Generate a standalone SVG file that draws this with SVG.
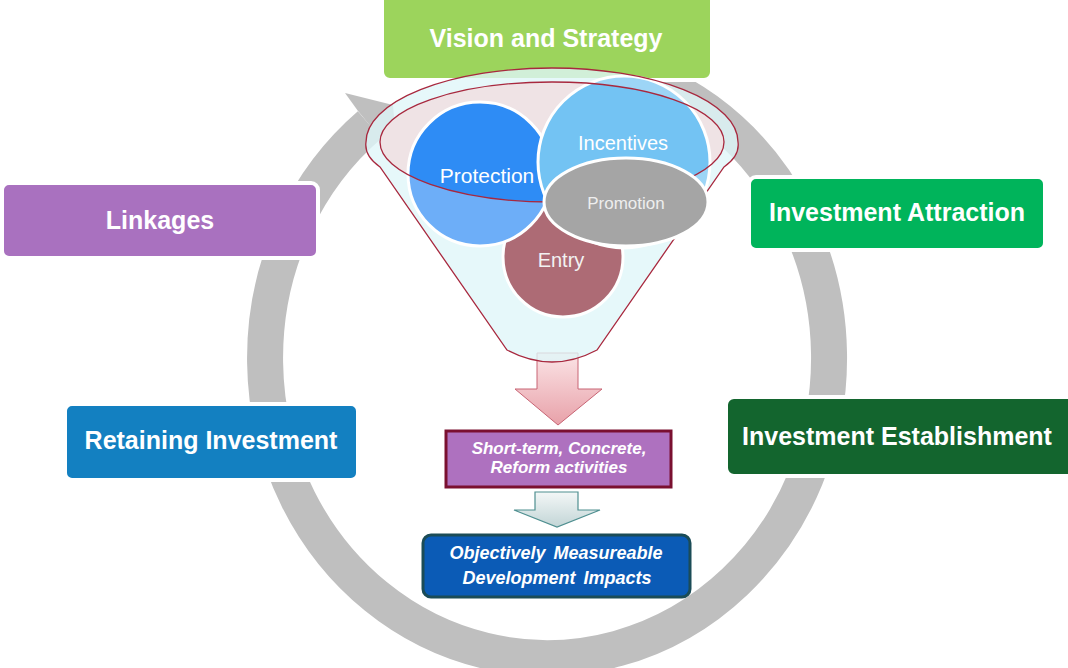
<svg xmlns="http://www.w3.org/2000/svg" width="1068" height="668" viewBox="0 0 1068 668">
<defs>
<style>
.box{stroke:#fff;stroke-width:4}
.lbl{font-family:"Liberation Sans",Arial,sans-serif;font-weight:bold;font-size:25px;fill:#fff;text-anchor:middle}
.sm{font-family:"Liberation Sans",Arial,sans-serif;font-weight:bold;font-style:italic;fill:#fff;text-anchor:middle}
.circ{stroke:#fff;stroke-width:3}
.ct{font-family:"Liberation Sans",Arial,sans-serif;text-anchor:middle}
</style>
<linearGradient id="pinkG" x1="0" y1="0" x2="0" y2="1">
<stop offset="0" stop-color="#FBE4E6"/><stop offset="1" stop-color="#E8A1A9"/>
</linearGradient>
<linearGradient id="grayG" x1="0" y1="0" x2="0" y2="1">
<stop offset="0" stop-color="#F3F7F7"/><stop offset="1" stop-color="#C2D5D6"/>
</linearGradient>
</defs>
<rect width="1068" height="668" fill="#fff"/>
<g id="connectors">
<path d="M596,62.6 A282 300 0 1 1 369.6,124.9" fill="none" stroke="#BFBFBF" stroke-width="36"/>
<polygon points="358,111 345,93 393,105 397,154 381,139" fill="#BFBFBF"/>
<polygon points="537,353 578,353 578,389 602,389 558,425 515,389 537,389" fill="url(#pinkG)" stroke="#C86474" stroke-width="1"/>
<polygon points="535,492 578,492 578,510 600,510 557,527 514,510 535,510" fill="url(#grayG)" stroke="#4F8F90" stroke-width="1.2"/>
</g>
<g id="node-linkages">
<rect class="box" x="2" y="183" width="316" height="75" rx="7" fill="#A971BF"/>
<text class="lbl" x="160" y="229">Linkages</text>
</g>
<g id="node-retaining">
<rect class="box" x="65" y="404" width="293" height="76" rx="7" fill="#1380C1"/>
<text class="lbl" x="211" y="449">Retaining Investment</text>
</g>
<g id="node-attraction">
<rect class="box" x="749" y="177" width="296" height="73" rx="7" fill="#00B45B"/>
<text class="lbl" x="897" y="221">Investment Attraction</text>
</g>
<g id="node-establishment">
<rect class="box" x="726" y="397" width="350" height="79" rx="8" fill="#13652E"/>
<text class="lbl" x="897" y="445">Investment Establishment</text>
</g>
<g id="node-vision">
<rect class="box" x="382" y="-10" width="330" height="90" rx="8" fill="#9CD45C"/>
<text class="lbl" x="546" y="47">Vision and Strategy</text>
</g>
<g id="node-funnel">
<path d="M366,142 A186 74 0 0 1 738,142 Q740,156 724,167 L597,350 Q552,374 507,350 L380,167 Q364,156 366,142 Z" fill="#CCF1F5" fill-opacity="0.7"/>
<ellipse cx="552" cy="142" rx="172" ry="60" fill="#EFE3E5"/>
<circle class="circ" cx="563" cy="257" r="60" fill="#8A2C3A"/>
<circle class="circ" cx="480" cy="174" r="72" fill="#2E8CF5"/>
<circle class="circ" cx="624" cy="162" r="86" fill="#73C3F3"/>
<path fill-rule="evenodd" fill="#fff" fill-opacity="0.3" d="M366,142 A186 74 0 0 1 738,142 Q740,156 724,167 L597,350 Q552,374 507,350 L380,167 Q364,156 366,142 Z M380,142 A172 60 0 0 0 724,142 A172 60 0 0 0 380,142 Z"/>
<ellipse cx="552" cy="142" rx="172" ry="60" fill="none" stroke="#A8283E" stroke-width="1.3"/>
<path d="M366,142 A186 74 0 0 1 738,142 Q740,156 724,167 L597,350 Q552,374 507,350 L380,167 Q364,156 366,142 Z" fill="none" stroke="#A8283E" stroke-width="1.3"/>
<ellipse class="circ" cx="626" cy="202" rx="82" ry="44" fill="#A5A5A5"/>
<text class="ct" x="487" y="183" font-size="21" fill="#fff">Protection</text>
<text class="ct" x="623" y="150" font-size="20" fill="#fff">Incentives</text>
<text class="ct" x="626" y="209" font-size="17" fill="#EEEEEE">Promotion</text>
<text class="ct" x="561" y="267" font-size="20" fill="#F2F2F2">Entry</text>
</g>
<g id="node-shortterm">
<rect x="446" y="431" width="225" height="56" fill="#AE71BF" stroke="#7A1030" stroke-width="3"/>
<text class="sm" x="559" y="454" font-size="17">Short-term, Concrete,</text>
<text class="sm" x="559" y="473" font-size="17">Reform activities</text>
</g>
<g id="node-impacts">
<rect x="423" y="535" width="267" height="62" rx="8" fill="#0B5BB6" stroke="#1B4C57" stroke-width="3"/>
<text class="sm" x="556" y="559" font-size="18" word-spacing="3">Objectively Measureable</text>
<text class="sm" x="557" y="584" font-size="18" word-spacing="3">Development Impacts</text>
</g>
</svg>
